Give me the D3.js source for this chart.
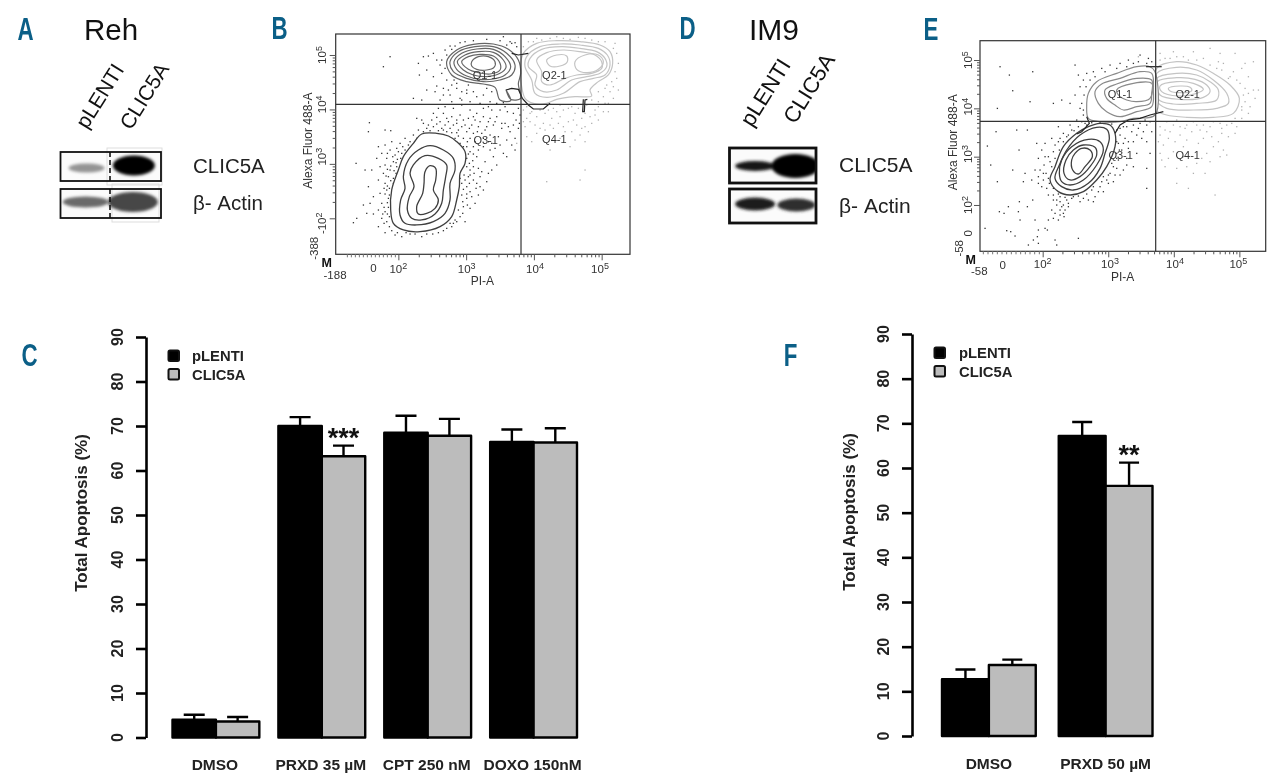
<!DOCTYPE html>
<html><head><meta charset="utf-8">
<script src="https://cdn.jsdelivr.net/npm/d3@7"></script>
<style>
html,body{margin:0;padding:0;background:#fff}
svg{display:block;filter:blur(0.35px)}
text{font-family:"Liberation Sans",Arial,sans-serif}
</style></head><body>
<svg id="c" width="1280" height="783"></svg>
<script>
// ---------- bar chart data ----------
const seriesNames = ["pLENTI", "CLIC5A"];
const categoriesC = ["DMSO", "PRXD 35 µM", "CPT 250 nM", "DOXO 150nM"];
const pLentiC = [4.0, 70.0, 68.5, 66.4];
const clicC = [3.6, 63.2, 67.8, 66.3];
const pLentiErrC = [1.1, 2.0, 3.8, 2.8];
const clicErrC = [1.0, 2.4, 3.8, 3.2];
const starsC = ["", "***", "", ""];
const categoriesF = ["DMSO", "PRXD 50 µM"];
const pLentiF = [12.7, 67.2];
const clicF = [15.9, 56.0];
const pLentiErrF = [2.2, 3.1];
const clicErrF = [1.2, 5.2];
const starsF = ["", "**"];
const yTickValues = [0, 10, 20, 30, 40, 50, 60, 70, 80, 90];

// ---------- western blot band densities (0 to 1) ----------
const blotLanes = ["pLENTI", "CLIC5A"];
const rehClic = [0.42, 1.0];
const rehActin = [0.58, 0.72];
const im9Clic = [0.92, 1.0];
const im9Actin = [0.88, 0.82];

// ---------- flow cytometry readings, in display channel units ----------
const bQ3Contours = [
 [[455,372],[500,370],[535,378],[560,395],[585,425],[585,460],[570,490],[568,530],[560,570],[545,620],[510,650],[450,665],[400,660],[370,640],[362,600],[365,540],[385,480],[400,440],[430,400]],
 [[480,407],[520,420],[550,445],[555,480],[540,520],[540,570],[525,610],[490,635],[440,645],[405,640],[390,615],[392,570],[405,535],[400,500],[415,450],[445,420]],
 [[465,437],[505,445],[530,465],[527,500],[520,540],[515,580],[495,612],[455,630],[425,625],[412,600],[418,560],[432,530],[420,490],[430,465]],
 [[480,467],[497,475],[497,510],[490,540],[505,570],[495,595],[470,610],[445,612],[440,590],[458,550],[462,520],[465,485]]
];
const bQ1Contours = [
 [[530,155],[560,120],[610,103],[670,102],[715,118],[745,150],[752,190],[745,222],[752,265],[722,268],[708,240],[722,272],[690,270],[675,232],[640,222],[590,215],[545,195]],
 [[540,155],[565,125],[615,110],[670,110],[710,130],[735,165],[725,195],[690,210],[640,215],[590,205],[550,185]],
 [[552,155],[575,130],[620,117],[670,118],[705,140],[722,170],[705,195],[670,207],[630,208],[590,198],[560,178]],
 [[562,155],[585,135],[625,125],[670,127],[700,150],[708,172],[690,190],[650,200],[610,195],[580,180]],
 [[575,155],[595,140],[630,133],[670,138],[690,160],[690,180],[660,192],[625,188],[595,178]],
 [[605,155],[625,140],[655,140],[675,155],[672,172],[650,180],[620,178],[605,168]]
];
const bQ2Contours = [
 [[760,130],[800,100],[860,92],[930,95],[990,105],[1020,125],[1028,160],[1015,195],[985,215],[960,240],[965,258],[915,260],[860,268],[830,280],[790,280],[765,265],[755,230],[750,180]],
 [[770,140],[810,110],[870,102],[930,105],[985,115],[1012,135],[1020,165],[1005,195],[970,205],[930,215],[880,250],[830,262],[795,250],[785,210],[765,170]],
 [[780,145],[815,118],[875,110],[930,115],[980,125],[1005,145],[1010,170],[990,190],[950,200],[905,210],[860,240],[820,245],[795,225],[800,195],[775,170]],
 [[800,150],[830,128],[880,120],[930,125],[975,135],[995,155],[995,175],[965,190],[920,195],[885,205],[840,225],[815,215],[815,185]],
 [[830,150],[860,135],[890,138],[892,155],[870,168],[840,168]],
 [[915,155],[945,135],[985,135],[1000,155],[985,178],[950,188],[920,178]]
];
const bEdgeLines = [
 [[725,130],[745,135],[775,130]],
 [[708,240],[725,235],[745,238],[757,265],[775,285],[790,297],[820,297],[840,280]],
 [[940,268],[938,305],[943,305],[945,270],[952,268]]
];
const bDarkDots = [[340,170],[360,140],[445,160],[460,140],[475,138],[490,130],[500,150],[510,165],[470,180],[448,195],[490,200],[515,190],[530,210],[545,225],[560,235],[575,245],[520,235],[500,228],[470,240],[430,265],[455,270],[510,270],[540,255],[570,265],[590,250],[610,245],[640,255],[660,275],[680,280],[705,290],[730,310],[750,315],[745,295],[725,100],[740,110],[720,95],[545,118],[530,135],[555,108],[585,95],[700,278],[690,300],[665,300],[640,295],[620,310],[600,300],[575,285],[550,295],[525,290],[505,295],[490,310],[520,310],[545,320],[570,315],[595,325],[615,330],[640,320],[660,325],[680,320],[705,340],[730,345],[745,355],[720,365],[695,355],[670,345],[650,350],[625,350],[605,345],[585,345],[560,340],[535,335],[510,335],[485,330],[460,340],[440,325],[445,360],[470,355],[490,350],[515,355],[540,355],[565,360],[590,365],[610,370],[635,370],[660,375],[685,380],[710,390],[735,385],[735,420],[690,405],[665,400],[640,410],[615,395],[600,385],[580,385],[565,378],[430,375],[405,385],[420,395],[390,400],[365,395],[345,405],[325,410],[298,338],[345,360],[362,362],[295,365],[380,415],[360,420],[335,430],[320,445],[350,445],[375,435],[395,430],[370,455],[345,465],[330,470],[360,480],[380,470],[258,460],[285,480],[305,480],[340,490],[355,500],[370,505],[345,520],[325,510],[295,530],[350,540],[330,550],[310,560],[355,565],[335,580],[300,580],[280,585],[325,600],[345,605],[310,612],[260,625],[250,638],[290,610],[335,625],[350,635],[325,650],[345,668],[375,675],[395,680],[420,672],[470,672],[505,668],[530,655],[550,640],[570,620],[585,635],[565,600],[580,590],[600,595],[615,580],[590,565],[575,555],[600,545],[625,555],[640,540],[620,520],[590,530],[575,520],[570,505],[600,495],[630,500],[655,490],[610,470],[590,470],[590,445],[620,440],[645,455],[670,440],[700,430],[660,420],[600,425],[590,410],[610,410],[625,420],[580,410],[570,400],[555,385],[520,360],[460,365],[398,410],[385,425],[378,490],[370,520],[358,555],[358,620],[555,630],[540,640],[575,470],[595,500],[610,510],[585,510]];
const bDarkDotsExtra = [[352,430],[368,440],[382,448],[362,468],[352,478],[372,482],[348,498],[362,512],[352,528],[342,535],[358,535],[345,552],[352,578],[342,592],[355,592],[338,612],[352,612],[342,640],[358,650],[365,662],[382,668],[408,668],[435,672],[455,680],[488,672],[520,662],[545,650],[560,635],[578,610],[592,585],[578,575],[590,552],[580,538],[598,520],[582,495],[600,480],[580,452],[598,460],[608,452],[595,432],[610,432],[575,415],[592,395],[560,368],[545,368],[530,365],[505,362],[480,362],[440,385],[415,405],[405,420],[392,445],[378,458],[612,490],[625,475],[635,485],[618,535],[605,560],[630,530],[650,515],[665,480],[680,465],[710,440],[725,405],[640,385],[655,395],[675,415],[622,365],[645,360],[598,355],[575,350],[550,345],[525,345],[500,342],[475,345],[455,330],[500,322],[530,325],[560,330],[580,330],[610,320],[630,335],[655,335],[675,335],[695,340],[715,350],[738,330],[748,340],[712,305],[655,290],[630,280],[600,275],[575,270],[545,275],[520,255],[495,245],[535,240],[552,210],[525,175],[515,150],[525,120],[540,108],[570,98],[610,92],[650,88],[690,92],[710,105],[735,98],[700,80],[590,240],[620,260],[650,235],[665,245],[595,225],[560,220]];
const bLightDots = [[760,110],[775,95],[800,85],[840,85],[880,85],[925,82],[965,90],[1005,95],[1030,115],[1040,130],[1045,160],[1035,185],[1040,205],[1025,215],[1005,235],[985,245],[1000,260],[1030,265],[1015,280],[985,275],[965,270],[950,285],[975,300],[1000,305],[960,320],[935,325],[915,310],[895,295],[870,285],[850,295],[825,310],[800,320],[780,310],[760,300],[770,325],[795,345],[820,340],[845,325],[870,320],[895,335],[920,345],[945,350],[965,340],[985,330],[955,365],[930,375],[905,365],[880,350],[850,355],[825,360],[800,370],[770,380],[785,395],[740,400],[820,385],[870,385],[915,390],[945,395],[900,410],[840,420],[945,480],[830,515],[930,510],[765,350],[1020,245],[1045,240],[1015,305],[770,290],[785,305],[810,300],[835,300],[860,305],[880,300],[905,290],[925,295],[945,310],[985,290],[1005,280],[760,335],[780,335],[810,355],[840,345],[865,340],[885,365],[910,330],[935,355],[975,315],[1010,225],[1030,230],[1035,100],[985,95],[945,85],[900,88],[860,80],[815,90],[790,95]];
const eQ3Contours = [
 [[540,340],[570,345],[585,370],[585,410],[560,470],[530,510],[490,545],[450,555],[415,545],[390,510],[405,470],[430,410],[470,370],[505,350]],
 [[530,352],[560,358],[568,385],[555,430],[540,475],[505,520],[460,540],[425,530],[405,505],[418,465],[440,420],[480,375]],
 [[505,388],[540,395],[550,420],[530,465],[490,510],[450,525],[425,515],[418,490],[425,450],[455,410]],
 [[490,405],[525,412],[530,435],[510,470],[480,500],[450,510],[432,490],[438,450],[460,420]],
 [[485,415],[510,420],[517,440],[495,470],[475,492],[458,480],[455,450],[465,430]]
];
const eQ1Contours = [
 [[505,250],[530,215],[590,190],[650,170],[690,170],[705,185],[705,315],[640,325],[600,335],[540,335],[505,325],[500,290]],
 [[525,245],[545,222],[600,205],[660,185],[695,190],[700,240],[695,290],[650,305],[600,320],[560,305],[535,280]],
 [[555,240],[590,222],[650,205],[695,210],[695,250],[690,280],[650,290],[610,300],[585,285],[560,265]],
 [[590,240],[640,220],[695,220],[690,265],[650,275],[620,270],[600,260]]
];
const eQ2Contours = [
 [[710,175],[770,155],[830,165],[880,190],[930,225],[958,265],[940,310],[880,322],[800,322],[740,315],[708,300],[705,240]],
 [[710,190],[770,172],[830,180],[880,210],[920,250],[925,280],[890,295],[820,300],[740,295],[708,270]],
 [[710,205],[770,190],[830,195],[870,215],[895,240],[890,270],[830,280],[760,282],[715,268]],
 [[712,215],[770,203],[825,208],[860,225],[870,245],[850,262],[780,268],[720,255]],
 [[720,228],[770,215],[820,220],[850,238],[830,250],[775,258],[725,245]],
 [[745,235],[780,228],[810,232],[815,242],[780,248],[750,243]]
];
const eEdgeLines = [
 [[678,170],[725,170]],
 [[585,370],[600,345],[625,330],[660,325],[690,315],[730,305]],
 [[500,320],[508,340],[485,365],[470,372]]
];
const eDarkDots = [[240,170],[268,195],[338,185],[278,242],[232,295],[330,275],[465,165],[475,195],[480,230],[465,255],[450,280],[425,270],[400,280],[490,210],[500,190],[520,185],[545,175],[570,165],[600,160],[625,150],[660,135],[685,145],[640,160],[480,295],[490,315],[470,330],[450,345],[430,370],[415,350],[395,385],[375,400],[350,400],[322,360],[290,360],[228,365],[202,408],[212,465],[232,515],[297,420],[355,445],[360,480],[372,465],[385,440],[400,425],[415,395],[440,380],[455,360],[475,350],[495,340],[540,338],[590,395],[600,375],[615,385],[635,365],[655,355],[680,345],[695,365],[680,395],[665,385],[640,395],[625,415],[605,420],[590,430],[565,445],[575,460],[595,450],[620,445],[650,430],[640,470],[610,480],[590,475],[570,490],[550,500],[560,510],[580,515],[540,530],[515,540],[525,560],[505,570],[680,535],[680,475],[690,430],[460,560],[440,570],[420,560],[400,555],[380,535],[365,530],[385,505],[370,490],[355,520],[335,510],[315,490],[278,480],[310,515],[338,570],[298,575],[322,590],[265,590],[238,605],[252,610],[295,605],[345,630],[300,630],[355,660],[375,655],[385,630],[400,625],[420,600],[430,610],[445,590],[410,585],[435,600],[420,615],[195,655],[260,662],[285,678],[272,665],[352,680],[340,690],[325,705],[355,700],[405,690],[410,705],[475,685],[382,660],[520,575],[490,565],[400,570],[430,585],[395,600],[405,610]];
const eDarkDotsExtra = [[395,470],[405,445],[418,420],[430,395],[445,375],[462,362],[420,385],[405,405],[390,455],[378,490],[388,520],[400,535],[415,552],[435,562],[455,565],[475,558],[500,552],[520,530],[545,515],[565,495],[580,470],[590,445],[598,420],[595,400],[610,400],[625,395],[590,360],[600,355],[620,350],[640,345],[660,340],[675,330],[690,335],[490,300],[485,280],[492,255],[498,230],[510,210],[525,200],[555,185],[590,175],[620,170],[655,155],[680,160],[695,155],[485,335],[500,345],[515,338],[555,340],[575,342],[610,350],[650,375],[670,365],[620,465],[600,495],[585,495],[565,520],[550,545],[535,545],[480,575],[445,580],[410,570],[385,555],[370,510],[345,480],[355,500],[375,440],[365,420],[420,575],[432,620],[415,630],[425,590]];
const eLightDots = [[655,140],[720,130],[760,125],[820,125],[870,115],[900,130],[945,130],[975,160],[1000,155],[720,150],[790,140],[850,145],[910,160],[940,185],[965,175],[985,200],[960,220],[1000,240],[1015,240],[985,250],[975,275],[990,290],[965,300],[945,325],[965,325],[920,345],[900,340],[880,335],[850,345],[820,335],[800,345],[770,330],[740,335],[720,350],[750,365],[780,375],[815,365],[860,365],[905,370],[925,380],[945,370],[895,395],[880,410],[910,420],[920,435],[860,430],[835,400],[800,390],[765,395],[730,405],[720,430],[745,445],[735,470],[770,475],[800,470],[830,460],[870,455],[855,490],[820,490],[770,520],[805,535],[885,555],[720,375],[950,350],[1005,265],[925,205],[905,180],[895,155],[750,145],[735,145],[770,140],[805,150],[830,150],[870,165],[890,175],[930,200],[950,210],[975,235],[970,255],[965,290],[985,310],[935,340],[905,355],[870,350],[840,360],[795,355],[760,345],[735,360],[715,395],[745,385],[790,410],[850,385],[875,380],[900,440],[845,445],[790,440],[760,425],[725,450],[780,350],[830,345]];

// ---------- scaffolding ----------
const svg = d3.select("#c");
svg.append("rect").attr("width", 1280).attr("height", 783).attr("fill", "#fff");
const defs = svg.append("defs");
[1.8].forEach((s, i) => defs.append("filter").attr("id", "blur" + i)
  .attr("x", "-40%").attr("y", "-60%").attr("width", "180%").attr("height", "220%")
  .append("feGaussianBlur").attr("stdDeviation", s));
const teal = "#0b5f87";

// ---------- panel letters ----------
const panelLetters = ["A", "B", "C", "D", "E", "F"];
const letterPos = {A:[25.5,39.5],B:[279.5,39],C:[29.5,365.5],D:[687.5,39],E:[931,39.5],F:[790.5,365.5]};
const letterG = svg.append("g");
letterG.selectAll("text").data(panelLetters).join("text")
  .attr("transform", d => `translate(${letterPos[d][0]},${letterPos[d][1]}) scale(0.72,1)`)
  .attr("text-anchor", "middle").attr("font-size", 31).attr("font-weight", 700).attr("fill", teal).text(d => d);

// ---------- bar panels ----------
function barPanel(o) {
  const y = d3.scaleLinear([0, 90], [o.y0, o.y90]);
  const x = d3.scaleBand(o.cats, o.xr).paddingInner(o.pad);
  const sx = d3.scaleBand(seriesNames, [0, x.bandwidth()]);
  const g = svg.append("g");
  const axis = d3.axisLeft(y).tickValues(yTickValues).tickSize(10).tickSizeOuter(0).tickFormat("");
  const ax = g.append("g").attr("transform", `translate(${o.ax},0)`).call(axis);
  ax.selectAll("path,line").attr("stroke", "#000").attr("stroke-width", 2.6);
  g.append("g").selectAll("text").data(yTickValues).join("text")
    .attr("transform", d => `translate(${o.ax - 23},${y(d)}) rotate(-90)`)
    .attr("text-anchor", "middle").attr("font-size", 16).attr("font-weight", 700).attr("fill", "#222").text(d => d);
  g.append("text").attr("transform", `translate(${o.titleX},${o.titleY}) rotate(-90)`)
    .attr("text-anchor", "middle").attr("font-size", 17).attr("font-weight", 700).attr("fill", "#222").text("Total Apoptosis (%)");
  const rows = [[o.a, o.ae, "#000", "pLENTI"], [o.b, o.be, "#bcbcbc", "CLIC5A"]];
  rows.forEach(([vals, errs, fill, name]) => {
    const cx = (d, i) => x(o.cats[i]) + sx(name) + sx.bandwidth() / 2;
    g.append("g").selectAll("path").data(vals).join("path")
      .attr("d", (d, i) => `M${cx(d,i)},${y(d)}V${y(d + errs[i])}M${cx(d,i) - o.cap},${y(d + errs[i])}h${2 * o.cap}`)
      .attr("stroke", "#000").attr("stroke-width", 2.4).attr("fill", "none");
    g.append("g").selectAll("rect").data(vals).join("rect")
      .attr("x", (d, i) => x(o.cats[i]) + sx(name))
      .attr("width", sx.bandwidth()).attr("y", d => y(d)).attr("height", d => y(0) - y(d))
      .attr("fill", fill).attr("stroke", "#000").attr("stroke-width", 2.4).attr("stroke-linejoin", "round");
  });
  g.append("g").selectAll("text").data(o.cats).join("text")
    .attr("x", d => x(d) + x.bandwidth() / 2 + o.lblDx).attr("y", o.lblY).attr("text-anchor", "middle")
    .attr("font-size", 15.5).attr("font-weight", 700).attr("fill", "#222").text(d => d);
  g.append("g").selectAll("text").data(o.stars).join("text")
    .attr("x", (d, i) => x(o.cats[i]) + sx("CLIC5A") + sx.bandwidth() / 2)
    .attr("y", (d, i) => y(o.b[i] + o.be[i]) - 8).attr("dy", "0.35em").attr("text-anchor", "middle")
    .attr("font-size", 27).attr("font-weight", 700).attr("fill", "#111").text(d => d);
  const leg = g.append("g");
  seriesNames.forEach((name, i) => {
    leg.append("rect").attr("x", o.legX).attr("y", o.legY + i * o.legStep - 5.5).attr("width", 10.5).attr("height", 10.5).attr("rx", 1.5)
      .attr("fill", i ? "#bcbcbc" : "#000").attr("stroke", "#111").attr("stroke-width", 2);
    leg.append("text").attr("x", o.legTx).attr("y", o.legY + i * o.legStep + 5)
      .attr("font-size", 14.8).attr("font-weight", 700).attr("fill", "#222").text(name);
  });
}
barPanel({cats:categoriesC,a:pLentiC,b:clicC,ae:pLentiErrC,be:clicErrC,stars:starsC,y0:737.5,y90:337,xr:[172.5,577],pad:.18,ax:146,
  titleX:87,titleY:513,lblDx:-1,lblY:770,cap:10.5,legX:168.5,legY:356,legStep:18.5,legTx:192});
barPanel({cats:categoriesF,a:pLentiF,b:clicF,ae:pLentiErrF,be:clicErrF,stars:starsF,y0:736,y90:334,xr:[942,1152.5],pad:.197,ax:912,
  titleX:855,titleY:512,lblDx:0,lblY:769,cap:10,legX:934.5,legY:353,legStep:18.5,legTx:959});

// ---------- blots ----------
function blot(o) {
  const g = svg.append("g");
  const lane = d3.scaleBand(blotLanes, [o.x0, o.x1]);
  const tone = d3.scaleLinear([0, 1], ["#ffffff", "#000000"]);
  o.rows.forEach(r => {
    const box = g.append("g");
    box.append("rect").attr("x", o.x0).attr("y", r.y0).attr("width", o.x1 - o.x0).attr("height", r.y1 - r.y0).attr("fill", r.bg || "#fbfbfb");
    if (r.halo) box.append("rect").attr("x", r.halo[0]).attr("y", r.halo[1]).attr("width", r.halo[2]).attr("height", r.halo[3]).attr("fill", "none").attr("stroke", "#ddd").attr("stroke-width", 1);
    const cp = "clip" + o.id + r.y0;
    defs.append("clipPath").attr("id", cp).append("rect").attr("x", o.x0).attr("y", r.y0).attr("width", o.x1 - o.x0).attr("height", r.y1 - r.y0);
    box.append("g").attr("clip-path", `url(#${cp})`).selectAll("ellipse").data(r.vals).join("ellipse")
      .attr("cx", (d, i) => lane(blotLanes[i]) + lane.bandwidth() / 2 + r.dx[i])
      .attr("cy", (d, i) => r.cy[i]).attr("rx", (d, i) => r.rx[i]).attr("ry", (d, i) => r.ry[i])
      .attr("fill", d => tone(d)).attr("filter", "url(#blur0)");
    box.append("rect").attr("x", o.x0).attr("y", r.y0).attr("width", o.x1 - o.x0).attr("height", r.y1 - r.y0)
      .attr("fill", "none").attr("stroke", "#111").attr("stroke-width", o.sw);
    if (o.dash) box.append("line").attr("x1", o.dash).attr("x2", o.dash).attr("y1", r.y0).attr("y2", r.y1)
      .attr("stroke", "#111").attr("stroke-width", 1.6).attr("stroke-dasharray", "5 3");
  });
  o.labels.forEach(l => g.append("text").attr("x", l[1]).attr("y", l[2]).attr("font-size", o.fs).attr("font-family", o.font).attr("fill", "#222").text(l[0]));
  o.heads.forEach(l => g.append("text").attr("transform", `translate(${l[1]},${l[2]}) rotate(-58)`).attr("font-size", o.hs).attr("font-family", o.font).attr("fill", "#111").text(l[0]));
  g.append("text").attr("x", o.title[1]).attr("y", o.title[2]).attr("font-size", o.title[3]).attr("font-family", '"Liberation Sans"').attr("fill", "#111").text(o.title[0]);
}
blot({id:"r",x0:60.5,x1:161,sw:1.8,dash:110,font:'"Liberation Sans"',fs:20.5,hs:21,
  rows:[{y0:152,y1:181,vals:rehClic,dx:[1,-2],cy:[168,165.5],rx:[18,21],ry:[4.5,10],halo:[107,148,55,37]},
        {y0:189,y1:218,vals:rehActin,dx:[0,-3],cy:[202,202],rx:[23,25],ry:[5.5,10],halo:[112,184,47,38]}],
  labels:[["CLIC5A",193,173],["β- Actin",193,210]],heads:[["pLENTI",87,130],["CLIC5A",131,131]],title:["Reh",84,40,29.5]});
blot({id:"i",x0:729.5,x1:816,sw:2.8,dash:0,font:'Lato,"Liberation Sans"',fs:21,hs:22,
  rows:[{y0:148,y1:183,vals:im9Clic,dx:[4,1],cy:[166,166],rx:[20,24],ry:[5,12]},
        {y0:189,y1:223,vals:im9Actin,dx:[4,2],cy:[204,205],rx:[20,19],ry:[6.5,6.5]}],
  labels:[["CLIC5A",839,172],["β- Actin",839,213]],heads:[["pLENTI",752,128],["CLIC5A",795,125]],title:["IM9",749,40,30]});

// ---------- flow plots ----------
function flow(o) {
  const g = svg.append("g");
  const x = d3.scaleLinear(o.chanX, o.pxX), y = d3.scaleLinear(o.chanY, o.pxY);
  const line = d3.line().x(d => x(d[0])).y(d => y(d[1]));
  const closed = d3.line().x(d => x(d[0])).y(d => y(d[1])).curve(d3.curveCatmullRomClosed.alpha(0.5));
  const dots = (arr, col) => g.append("g").selectAll("rect").data(arr).join("rect")
    .attr("x", d => x(d[0]) - .6).attr("y", d => y(d[1]) - .6).attr("width", 1.3).attr("height", 1.3).attr("fill", col);
  dots(o.light, "#b0b0b0"); dots(o.dark, "#333");
  const rings = (arr, col, sw) => g.append("g").selectAll("path").data(arr).join("path")
    .attr("d", closed).attr("fill", (d, i) => i ? "none" : "#fff").attr("stroke", col).attr("stroke-width", sw);
  rings(o.q2, "#c4c4c4", 1.2); rings(o.q1, o.q1col, 1.2); rings(o.q3, "#3f3f3f", 1.3);
  g.append("g").selectAll("path").data(o.edges).join("path").attr("d", line).attr("fill", "none").attr("stroke", "#222").attr("stroke-width", 1.2);
  // frame & gates
  g.append("rect").attr("x", o.pxX[0]).attr("y", o.pxY[0]).attr("width", o.pxX[1] - o.pxX[0]).attr("height", o.pxY[1] - o.pxY[0])
    .attr("fill", "none").attr("stroke", "#333").attr("stroke-width", 1.2);
  g.append("line").attr("x1", x(o.gx)).attr("x2", x(o.gx)).attr("y1", o.pxY[0]).attr("y2", o.pxY[1]).attr("stroke", "#333").attr("stroke-width", 1.2);
  g.append("line").attr("x1", o.pxX[0]).attr("x2", o.pxX[1]).attr("y1", y(o.gy)).attr("y2", y(o.gy)).attr("stroke", "#333").attr("stroke-width", 1.2);
  // log axes
  const lx = d3.scaleLog([1e2, 1e5], [x(o.xDec[0]), x(o.xDec[1])]);
  const ly = d3.scaleLog([1e2, 1e5], [y(o.yDec[0]), y(o.yDec[1])]);
  const isMajor = v => Math.abs(Math.log10(v) % 1) < 1e-6;
  const bottom = g.append("g").attr("transform", `translate(0,${o.pxY[1]})`)
    .call(d3.axisBottom(lx).tickValues(lx.ticks()).tickSize(3).tickFormat("").tickSizeOuter(0));
  bottom.select("path").remove();
  bottom.selectAll("line").attr("y2", d => isMajor(d) ? 6 : 3).attr("stroke", "#555");
  const left = g.append("g").attr("transform", `translate(${o.pxX[0]},0)`)
    .call(d3.axisLeft(ly).tickValues(ly.ticks()).tickSize(3).tickFormat("").tickSizeOuter(0));
  left.select("path").remove();
  left.selectAll("line").attr("x2", d => isMajor(d) ? -6 : -3).attr("stroke", "#555");
  // dense linear ticks left of 10^2
  const fine = d3.range(o.fine[0], o.fine[1], o.fine[2]);
  g.append("g").selectAll("line").data(fine).join("line").attr("x1", d => x(d)).attr("x2", d => x(d))
    .attr("y1", o.pxY[1]).attr("y2", o.pxY[1] + 3).attr("stroke", "#777");
  // labels
  const col = "#333";
  o.xLabels.forEach(([t, cx, cy]) => {
    const te = g.append("text").attr("x", x(cx)).attr("y", y(cy)).attr("text-anchor", "middle").attr("font-size", 11.5).attr("fill", col);
    if (t.includes("^")) { const [b, s] = t.split("^"); te.append("tspan").text(b); te.append("tspan").attr("dy", -4).attr("font-size", 9).text(s); }
    else te.text(t);
  });
  o.yLabels.forEach(([t, cx, cy]) => {
    const te = g.append("text").attr("transform", `translate(${x(cx)},${y(cy)}) rotate(-90)`).attr("text-anchor", "middle").attr("font-size", 11.5).attr("fill", col);
    if (t.includes("^")) { const [b, s] = t.split("^"); te.append("tspan").text(b); te.append("tspan").attr("dy", -4).attr("font-size", 9).text(s); }
    else te.text(t);
  });
  g.append("text").attr("x", x(o.piA[0])).attr("y", y(o.piA[1])).attr("text-anchor", "middle").attr("font-size", 12).attr("fill", col).text("PI-A");
  g.append("text").attr("transform", `translate(${x(o.alexa[0])},${y(o.alexa[1])}) rotate(-90)`).attr("text-anchor", "middle").attr("font-size", 12).attr("fill", col).text("Alexa Fluor 488-A");
  g.append("text").attr("x", x(o.m[0])).attr("y", y(o.m[1])).attr("text-anchor", "middle").attr("font-size", 12.5).attr("font-weight", 700).attr("fill", "#111").text("M");
  g.append("g").selectAll("text").data(o.quads).join("text").attr("x", d => x(d[1])).attr("y", d => y(d[2])).attr("dy", "0.35em")
    .attr("text-anchor", "middle").attr("font-size", 11).attr("fill", "#333").text(d => d[0]);
}
flow({chanX:[197,1080],pxX:[335.7,630],chanY:[72,733],pxY:[34,254.3],gx:753,gy:283,xDec:[385,995],yDec:[625,135],fine:[232,385,12],q1col:"#666",
  dark:bDarkDots.concat(bDarkDotsExtra),light:bLightDots,q1:bQ1Contours,q2:bQ2Contours,q3:bQ3Contours,edges:bEdgeLines,
  xLabels:[["10^2",385,790],["10^3",590,790],["10^4",795,790],["10^5",990,790],["0",310,785],["-188",195,806]],
  yLabels:[["10^5",168,135],["10^4",168,283],["10^3",168,440],["-10^2",168,640],["-388",145,715]],
  piA:[637,825],alexa:[127,392],m:[170,772],
  quads:[["Q1-1",645,195],["Q2-1",853,195],["Q3-1",647,390],["Q4-1",853,388]]});
flow({chanX:[180,1037],pxX:[980,1265.7],chanY:[92,724],pxY:[40.7,251.3],gx:707,gy:334,xDec:[368,958],yDec:[585,150],fine:[190,360,14],q1col:"#8a8a8a",
  dark:eDarkDots.concat(eDarkDotsExtra),light:eLightDots,q1:eQ1Contours,q2:eQ2Contours,q3:eQ3Contours,edges:eEdgeLines,
  xLabels:[["10^2",368,775],["10^3",570,775],["10^4",765,775],["10^5",955,775],["0",248,777],["-58",178,795]],
  yLabels:[["10^5",155,150],["10^4",155,290],["10^3",155,432],["10^2",155,585],["0",155,670],["-58",128,715]],
  piA:[608,813],alexa:[110,397],m:[152,762],
  quads:[["Q1-1",600,252],["Q2-1",803,252],["Q3-1",602,435],["Q4-1",803,435]]});
</script>
</body></html>
